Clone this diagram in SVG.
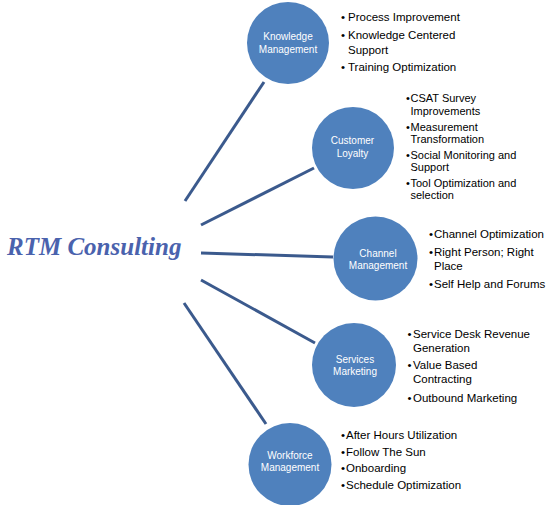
<svg xmlns="http://www.w3.org/2000/svg" width="560" height="505" viewBox="0 0 560 505">
<style>
.bg{fill:#ffffff}
.conn{stroke:#3b5a8d;stroke-width:3;stroke-linecap:butt;fill:none}
.node{fill:#4f81bd}
.nl{font-family:"Liberation Sans",Arial,sans-serif;font-size:10px;fill:#ffffff;text-anchor:middle}
.bt{font-family:"Liberation Sans",Arial,sans-serif;font-size:11.5px;fill:#000000}
.bs{font-family:"Liberation Sans",Arial,sans-serif;font-size:11px;fill:#000000}
.title{font-family:"Liberation Serif","Times New Roman",serif;font-size:25px;font-weight:bold;font-style:italic;fill:#4a62ad}
</style>
<rect class="bg" x="0" y="0" width="560" height="505"/>
<g id="connectors">
<line class="conn" x1="185" y1="201" x2="264" y2="82"/>
<line class="conn" x1="201" y1="225" x2="314" y2="168"/>
<line class="conn" x1="201" y1="253" x2="333" y2="257"/>
<line class="conn" x1="201" y1="280" x2="315" y2="343"/>
<line class="conn" x1="184" y1="303" x2="266" y2="424"/>
</g>
<g id="rtm-consulting">
<text class="title" x="7" y="255">RTM Consulting</text>
</g>
<g id="knowledge-management">
<circle class="node" cx="288" cy="43" r="41"/>
<text class="nl" x="288" y="40">Knowledge</text>
<text class="nl" x="288" y="52.5">Management</text>
<text class="bt" x="341" y="21">•</text><text class="bt" x="348" y="21">Process Improvement</text>
<text class="bt" x="341" y="39">•</text><text class="bt" x="348" y="39">Knowledge Centered</text>
<text class="bt" x="348" y="54">Support</text>
<text class="bt" x="341" y="71">•</text><text class="bt" x="348" y="71">Training Optimization</text>
</g>
<g id="customer-loyalty">
<circle class="node" cx="353" cy="148" r="41"/>
<text class="nl" x="352.5" y="144">Customer</text>
<text class="nl" x="352.5" y="157">Loyalty</text>
<text class="bs" x="406" y="102">•</text><text class="bs" x="410.5" y="102">CSAT Survey</text>
<text class="bs" x="410.5" y="115">Improvements</text>
<text class="bs" x="406" y="131">•</text><text class="bs" x="410.5" y="131">Measurement</text>
<text class="bs" x="410.5" y="143">Transformation</text>
<text class="bs" x="406" y="158.5">•</text><text class="bs" x="410.5" y="158.5">Social Monitoring and</text>
<text class="bs" x="410.5" y="171">Support</text>
<text class="bs" x="406" y="187">•</text><text class="bs" x="410.5" y="187">Tool Optimization and</text>
<text class="bs" x="410.5" y="199">selection</text>
</g>
<g id="channel-management">
<circle class="node" cx="375.5" cy="258.5" r="42"/>
<text class="nl" x="378" y="257">Channel</text>
<text class="nl" x="378" y="268.5">Management</text>
<text class="bt" x="429" y="238">•</text><text class="bt" x="434" y="238">Channel Optimization</text>
<text class="bt" x="429" y="256">•</text><text class="bt" x="434" y="256">Right Person; Right</text>
<text class="bt" x="434" y="269.5">Place</text>
<text class="bt" x="429" y="287.5">•</text><text class="bt" x="434" y="287.5">Self Help and Forums</text>
</g>
<g id="services-marketing">
<circle class="node" cx="354" cy="365" r="42"/>
<text class="nl" x="355" y="362.5">Services</text>
<text class="nl" x="355" y="374.5">Marketing</text>
<text class="bt" x="407.5" y="337.5">•</text><text class="bt" x="413" y="337.5">Service Desk Revenue</text>
<text class="bt" x="413" y="351.5">Generation</text>
<text class="bt" x="407.5" y="368.5">•</text><text class="bt" x="413" y="368.5">Value Based</text>
<text class="bt" x="413" y="383">Contracting</text>
<text class="bt" x="407.5" y="401.5">•</text><text class="bt" x="413" y="401.5">Outbound Marketing</text>
</g>
<g id="workforce-management">
<circle class="node" cx="290" cy="464.5" r="41.5"/>
<text class="nl" x="290" y="458.5">Workforce</text>
<text class="nl" x="290" y="470.5">Management</text>
<text class="bt" x="341" y="439">•</text><text class="bt" x="346" y="439">After Hours Utilization</text>
<text class="bt" x="341" y="455.5">•</text><text class="bt" x="346" y="455.5">Follow The Sun</text>
<text class="bt" x="341" y="472">•</text><text class="bt" x="346" y="472">Onboarding</text>
<text class="bt" x="341" y="489">•</text><text class="bt" x="346" y="489">Schedule Optimization</text>
</g>
</svg>
